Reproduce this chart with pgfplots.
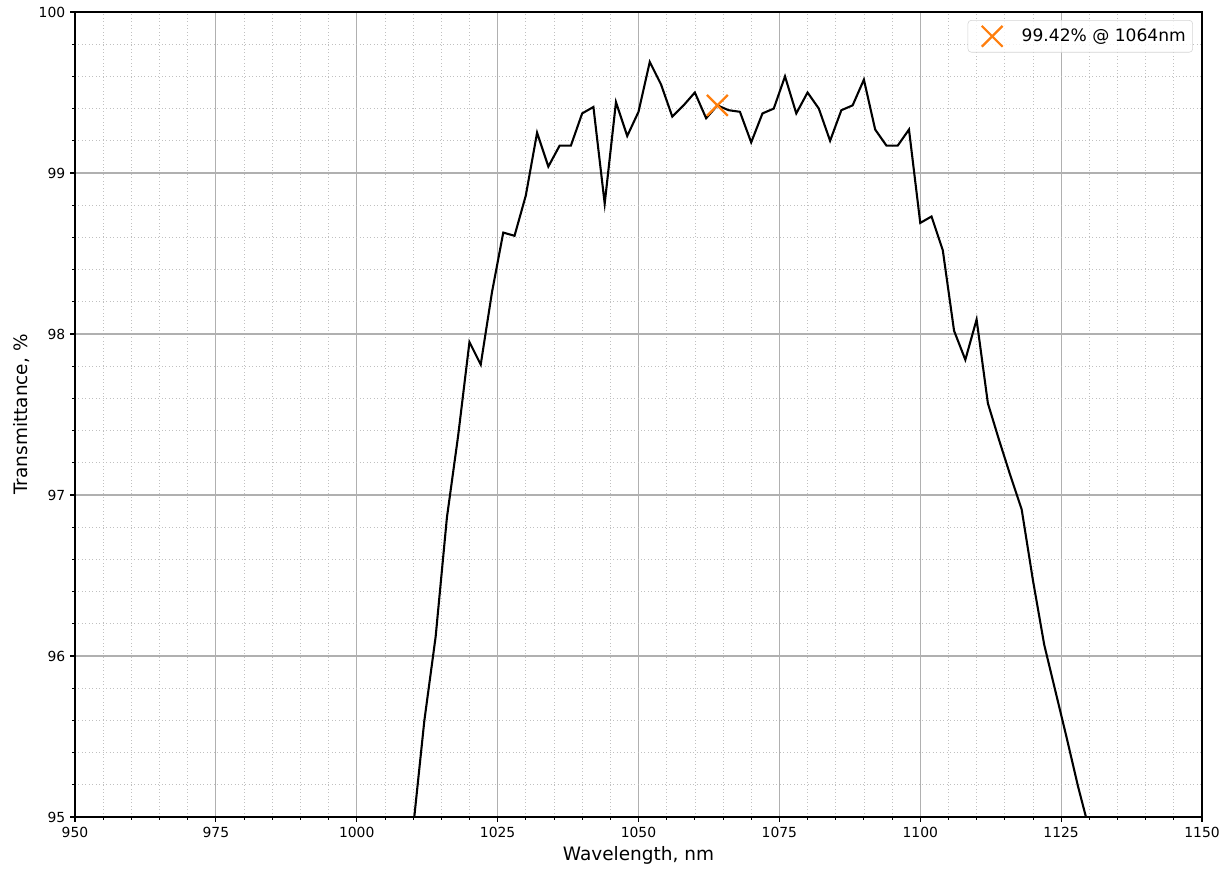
\documentclass[border=0pt]{standalone}
\usepackage{pgfplots}
\pgfplotsset{compat=1.18}
\usepackage{fontspec}
\setmainfont{DejaVu Sans}

\definecolor{taborange}{HTML}{FF7F0E}
\definecolor{gridgray}{HTML}{B0B0B0}

% transmittance spectrum, every 2 nm
\pgfplotstableread{
wl T
1010 94.93
1012 95.60
1014 96.12
1016 96.86
1018 97.37
1020 97.95
1022 97.81
1024 98.26
1026 98.63
1028 98.61
1030 98.86
1032 99.25
1034 99.04
1036 99.17
1038 99.17
1040 99.37
1042 99.41
1044 98.81
1046 99.44
1048 99.23
1050 99.38
1052 99.69
1054 99.55
1056 99.35
1058 99.42
1060 99.50
1062 99.34
1064 99.42
1066 99.39
1068 99.38
1070 99.19
1072 99.37
1074 99.40
1076 99.60
1078 99.37
1080 99.50
1082 99.40
1084 99.20
1086 99.39
1088 99.42
1090 99.58
1092 99.27
1094 99.17
1096 99.17
1098 99.27
1100 98.69
1102 98.73
1104 98.52
1106 98.02
1108 97.84
1110 98.09
1112 97.57
1114 97.34
1116 97.12
1118 96.91
1120 96.47
1122 96.07
1124 95.78
1126 95.49
1128 95.19
1130 94.92
}\spectrum

\begin{document}
\begin{tikzpicture}
  \begin{axis}[
    name=ax,
    scale only axis,
    width=811.4pt, height=579.6pt,
    xmin=950, xmax=1150, ymin=95, ymax=100,
    xtick={950,975,...,1150},
    ytick={95,96,...,100},
    minor x tick num=4,
    minor y tick num=4,
    tick align=outside,
    major tick length=3.5pt,
    minor tick length=2pt,
    every tick/.style={black, line width=0.8pt},
    minor tick style={black, line width=0.6pt},
    xtick pos=bottom, ytick pos=left,
    grid=both,
    major grid style={gridgray, line width=0.8pt},
    minor grid style={gridgray!80, line width=0.5pt, dotted},
    axis line style={black, line width=1.2pt},
    /pgf/number format/assume math mode=true,
    /pgf/number format/1000 sep={},
    tick label style={font=\fontsize{10}{12}\selectfont},
    label style={font=\fontsize{13.3}{15}\selectfont},
    xlabel={Wavelength, nm},
    ylabel={Transmittance, \%},
    xlabel style={at={(axis description cs:0.5,-0.0472)}, anchor=center},
    ylabel style={at={(axis description cs:-0.047,0.5)}, anchor=center, rotate=0},
    legend style={at={(0.992,0.990)}, anchor=north east,
      draw=gridgray!55, rounded corners=2.5pt, fill=white, fill opacity=0.8, text opacity=1,
      font=\fontsize{12.3}{14}\selectfont, inner xsep=3pt, inner ysep=4pt},
    legend image code/.code={
      \draw[#1] plot coordinates {(0.1cm,0cm)};
      \path (-0.38cm,0cm) (0.75cm,0cm);
    },
    legend cell align=left,
  ]
  \addplot[black, line width=1.5pt, forget plot] table[x=wl, y=T] {\spectrum};
  \addplot[only marks, mark=x, mark size=10.6pt, taborange, line width=1.6pt]
    coordinates {(1064,99.42)};
  \addlegendentry{99.42\% @ 1064nm}
  \end{axis}
  \pgfresetboundingbox
  \path ([shift={(-54pt,-37.44pt)}]ax.south west) rectangle ([shift={(15.84pt,8.64pt)}]ax.north east);
\end{tikzpicture}
\end{document}
